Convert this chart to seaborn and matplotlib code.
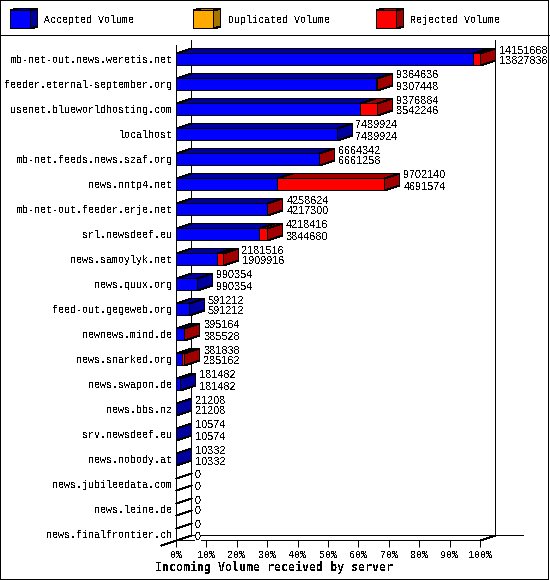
import matplotlib
matplotlib.use('Agg')
import matplotlib.pyplot as plt
from matplotlib.patches import Polygon, Rectangle
from matplotlib.transforms import Affine2D
import seaborn as sns

servers = ['mb-net-out.news.weretis.net', 'feeder.eternal-september.org',
           'usenet.blueworldhosting.com', 'localhost', 'mb-net.feeds.news.szaf.org',
           'news.nntp4.net', 'mb-net-out.feeder.erje.net', 'srl.newsdeef.eu',
           'news.samoylyk.net', 'news.quux.org', 'feed-out.gegeweb.org',
           'newnews.mind.de', 'news.snarked.org', 'news.swapon.de', 'news.bbs.nz',
           'srv.newsdeef.eu', 'news.nobody.at', 'news.jubileedata.com',
           'news.leine.de', 'news.finalfrontier.ch']
offered = [14151668, 9364636, 9376884, 7489924, 6664342, 9702140, 4258624, 4218416,
           2181516, 990354, 591212, 395164, 381838, 181482, 21208, 10574, 10332, 0, 0, 0]
accepted = [13827836, 9307448, 8542246, 7489924, 6661258, 4691574, 4217300, 3844680,
            1909916, 990354, 591212, 385528, 285162, 181482, 21208, 10574, 10332, 0, 0, 0]
percent_ticks = [0, 10, 20, 30, 40, 50, 60, 70, 80, 90, 100]
legend_names = ['Accepted Volume', 'Duplicated Volume', 'Rejected Volume']

BLUE, BLUE_DARK = '#0000ff', '#0000a0'
RED, RED_DARK = '#ff0000', '#a00000'
ORANGE, ORANGE_DARK = '#ffaa00', '#a87400'
LW = 0.72  # one pixel at dpi 100
FS = 7.2

plt.rcParams['text.antialiased'] = False
plt.rcParams['patch.antialiased'] = False
plt.rcParams['lines.antialiased'] = False
plt.rcParams['font.family'] = 'Liberation Mono'

W, H = 550, 580
fig = plt.figure(figsize=(W / 100, H / 100), dpi=100, facecolor='white')
# axes box = front plane of the 3d chart, in pixels from the top left
# agg snaps lines to floor(v + 0.5) + 0.5 so whole numbers land on the wanted row/col
left, right, top, bottom = 176, 480, 39.5, 540
ax = fig.add_axes([left / W, (H - bottom) / H, (right - left) / W, (bottom - top) / H])
ax.patch.set_alpha(0)

vmax = max(offered)
px_x = vmax / (right - left)   # one pixel in data units
px_y = 1 / 25
dx, dy = 15 * px_x, 5 * px_y   # depth of the bars
half = 6 * px_y

# front faces, red behind, blue on top
sns.barplot(x=offered, y=servers, color=RED, saturation=1, width=2 * half,
            edgecolor='black', linewidth=LW, orient='h', ax=ax, zorder=3)
sns.barplot(x=accepted, y=servers, color=BLUE, saturation=1, width=2 * half,
            edgecolor='black', linewidth=LW, orient='h', ax=ax, zorder=3)


def face(points, color):
    ax.add_patch(Polygon(points, closed=True, facecolor=color, edgecolor='black',
                         linewidth=LW, clip_on=False, zorder=2, snap=True))


# top and side faces, value labels
for i, (tot, acc) in enumerate(zip(offered, accepted)):
    y0, y1 = i - half, i + half
    if tot == 0:
        ax.plot([0, dx], [y0, y0 - dy], color='black', lw=LW, clip_on=False, zorder=2, snap=True)
        ax.plot([0, dx], [y1, y1 - dy], color='black', lw=LW, clip_on=False, zorder=2, snap=True)
    else:
        face([(0, y0), (acc, y0), (acc + dx, y0 - dy), (dx, y0 - dy)], BLUE_DARK)
        if tot > acc:
            face([(acc, y0), (tot, y0), (tot + dx, y0 - dy), (acc + dx, y0 - dy)], RED_DARK)
        side = RED_DARK if tot > acc else BLUE_DARK
        face([(tot, y0), (tot, y1), (tot + dx, y1 - dy), (tot + dx, y0 - dy)], side)
    tx = tot + dx + 4 * px_x
    ax.text(tx, i - 8.5 * px_y, str(tot), fontsize=7.8, family='Liberation Sans', va='center',
            ha='left', clip_on=False, zorder=5)
    # only the last label sits on the floor line and needs a white box
    box = dict(facecolor='white', edgecolor='none', pad=0) if i == len(servers) - 1 else None
    ax.text(tx, i + 2.5 * px_y, str(acc), fontsize=7.8, family='Liberation Sans', va='center',
            ha='left', clip_on=False, zorder=5, bbox=box)

# walls and floor
y_end = len(servers) - 1 + half
y_top = -19.5 * px_y
wall = dict(color='black', lw=LW, clip_on=False, zorder=1, snap=True)
ax.plot([0, 0], [y_top + dy, y_end], **wall)
ax.plot([dx, dx], [y_top, y_end - dy], **wall)
ax.plot([vmax + dx, vmax + dx], [y_top, y_end - dy], **wall)
ax.plot([dx, vmax + 42.5 * px_x], [y_end - dy, y_end - dy], **wall)
ax.plot([vmax, vmax + dx], [y_end, y_end - dy], **wall)
ax.plot([-15 * px_x, dx], [y_end + dy, y_end - dy], **wall)

ax.set_xlim(0, vmax)
ax.set_ylim(y_end, y_top)
ax.set_xticks([vmax * p / 100 for p in percent_ticks])
ax.set_xticklabels([f'{p}%' for p in percent_ticks], fontsize=FS)
ax.tick_params(axis='x', length=5, width=LW, pad=2)
ax.tick_params(axis='y', length=0, pad=2.5, labelsize=FS)
ax.set_xlabel('')
ax.set_ylabel('')
for name in ['top', 'left', 'right']:
    ax.spines[name].set_visible(False)
ax.spines['bottom'].set_linewidth(LW)

# everything outside the chart is placed in pixels, y going down
pixels = Affine2D().scale(1, -1).translate(0, H)
fig.text(274, 567, 'Incoming Volume received by server', transform=pixels,
         fontsize=8.35, family='DejaVu Sans Mono', fontweight='bold', ha='center', va='center')

fig.add_artist(Rectangle((0, 0), 548, 579, transform=pixels, facecolor='none',
                         edgecolor='black', linewidth=LW, snap=True))
fig.add_artist(plt.Line2D([0, W], [35, 35], transform=pixels, color='black', lw=LW, snap=True))

swatches = [(10, BLUE, BLUE_DARK, 44.5), (193, ORANGE, ORANGE_DARK, 227.5),
            (376, RED, RED_DARK, 410.5)]
for name, (sx, col, dark, tx) in zip(legend_names, swatches):
    sy0, sy1, sw, ox, oy = 10, 28, 20, 7, 2
    for pts, c in [([(sx, sy0), (sx + ox, sy0 - oy), (sx + sw + ox, sy0 - oy), (sx + sw, sy0)], dark),
                   ([(sx + sw, sy0), (sx + sw + ox, sy0 - oy), (sx + sw + ox, sy1 - oy), (sx + sw, sy1)], dark),
                   ([(sx, sy0), (sx + sw, sy0), (sx + sw, sy1), (sx, sy1)], col)]:
        fig.add_artist(Polygon(pts, closed=True, transform=pixels, facecolor=c,
                               edgecolor='black', linewidth=LW, snap=True))
    fig.text(tx, 20, name, transform=pixels, fontsize=FS, ha='left', va='center')

fig.savefig('out.png', dpi=100)
